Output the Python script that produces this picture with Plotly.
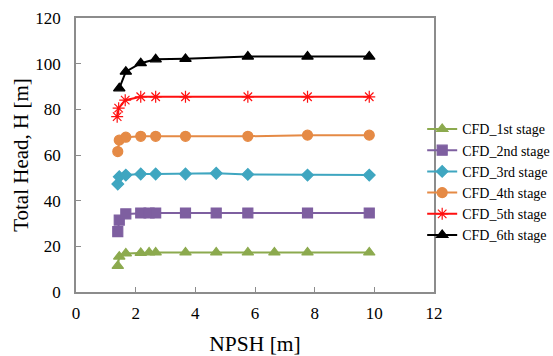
import plotly.graph_objects as go

# ---- data ----
x_1st = [1.40, 1.45, 1.67, 2.17, 2.45, 2.67, 3.67, 4.70, 5.76, 6.65, 7.76, 9.83]
y_1st = [11.4, 15.5, 16.9, 17.1, 17.3, 17.3, 17.3, 17.3, 17.3, 17.3, 17.3, 17.3]

x_2nd = [1.40, 1.45, 1.67, 2.17, 2.45, 2.67, 3.67, 4.70, 5.76, 7.76, 9.83]
y_2nd = [26.4, 31.5, 34.2, 34.6, 34.6, 34.6, 34.6, 34.6, 34.6, 34.6, 34.6]

x_3rd = [1.40, 1.45, 1.67, 2.17, 2.67, 3.67, 4.70, 5.76, 7.76, 9.83]
y_3rd = [47.3, 50.5, 51.2, 51.7, 51.7, 51.7, 52.0, 51.5, 51.2, 51.2]

x_4th = [1.40, 1.45, 1.67, 2.17, 2.67, 3.67, 5.76, 7.76, 9.83]
y_4th = [61.5, 66.5, 67.8, 68.2, 68.2, 68.2, 68.2, 68.7, 68.7]

x_5th = [1.38, 1.43, 1.65, 2.17, 2.67, 3.67, 5.76, 7.76, 9.83]
y_5th = [76.8, 80.5, 84.0, 85.5, 85.5, 85.5, 85.5, 85.5, 85.5]

x_6th = [1.45, 1.67, 2.17, 2.67, 3.67, 5.76, 7.76, 9.83]
y_6th = [89.2, 96.5, 100.2, 101.9, 102.1, 103.1, 103.1, 103.1]

names = ["CFD_1st stage", "CFD_2nd stage", "CFD_3rd stage",
         "CFD_4th stage", "CFD_5th stage", "CFD_6th stage"]
x_ticks = [0, 2, 4, 6, 8, 10, 12]
y_ticks = [0, 20, 40, 60, 80, 100, 120]

series = [
    (x_1st, y_1st, "#8CAA4E", "triangle-up", 10),
    (x_2nd, y_2nd, "#7E5FA0", "square", 10),
    (x_3rd, y_3rd, "#3FA6C0", "diamond", 9),
    (x_4th, y_4th, "#E58A45", "circle", 10),
    (x_5th, y_5th, "#FF1010", "asterisk-open", 10),
    (x_6th, y_6th, "#000000", "triangle-up", 10),
]

fig = go.Figure()
for name, (xs, ys, col, sym, sz) in zip(names, series):
    fig.add_trace(go.Scatter(
        x=xs, y=ys, name=name, mode="lines+markers",
        line=dict(color=col, width=2),
        marker=dict(symbol=sym, size=sz, color=col,
                    line=dict(color=col, width=1.2)),
        legendgroup=name,
    ))

font_family = "Liberation Serif"
fig.update_layout(
    width=553, height=356,
    margin=dict(l=76, r=119, t=18, b=64, autoexpand=False),
    paper_bgcolor="white", plot_bgcolor="white",
    font=dict(family=font_family, color="black", size=17),
    showlegend=True,
    legend=dict(x=0.967, xanchor="left", y=0.40, yanchor="middle",
                font=dict(family=font_family, size=14, color="black"),
                bgcolor="rgba(0,0,0,0)", itemwidth=30, tracegroupgap=0),
)
fig.update_xaxes(
    range=[0, 12], tickvals=x_ticks, ticktext=[str(v) for v in x_ticks],
    showgrid=False, zeroline=False, showline=True, mirror=True,
    linecolor="#8c8c8c", linewidth=1.5, automargin=False,
    ticks="inside", ticklen=5, tickcolor="#8c8c8c", ticklabelstandoff=5,
    tickfont=dict(family=font_family, size=17),
    title=dict(text="NPSH [m]", font=dict(family=font_family, size=21.5), standoff=16),
)
fig.update_yaxes(
    range=[0, 120], tickvals=y_ticks, ticktext=[str(v) for v in y_ticks],
    showgrid=False, zeroline=False, showline=True, mirror=True,
    linecolor="#8c8c8c", linewidth=1.5, automargin=False,
    ticks="inside", ticklen=5, tickcolor="#8c8c8c", ticklabelstandoff=10,
    tickfont=dict(family=font_family, size=17),
    title=dict(text="Total Head, H [m]", font=dict(family=font_family, size=21), standoff=1),
)
# remove the default page margin so the figure fills the window exactly
fig.write_html(
    "out.html",
    config={"displayModeBar": False},
    post_script="document.body.style.margin='0';document.body.style.overflow='hidden';",
)
